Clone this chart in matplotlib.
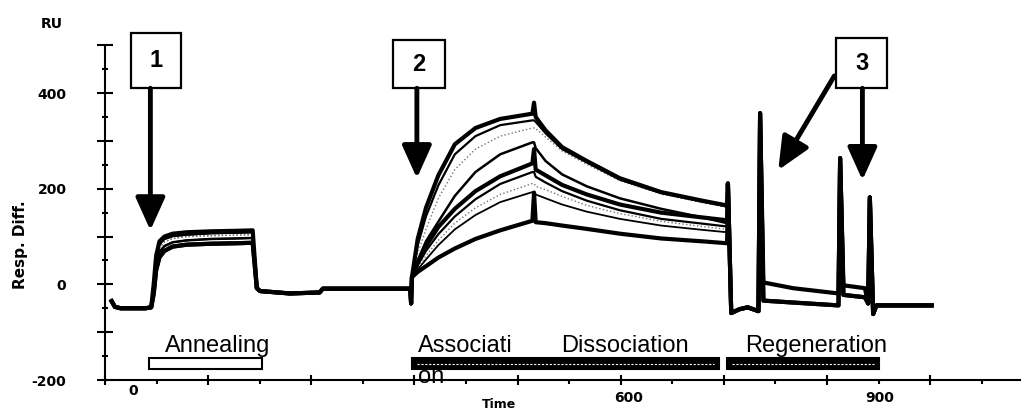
import matplotlib.pyplot as plt
from matplotlib.patches import Rectangle, FancyArrowPatch

plt.rcParams['font.family'] = ['Liberation Sans', 'DejaVu Sans']

# ---- sensorgram data: time (s) and response (RU) ----
base1_t = [-26, -22, -15, 0, 15, 22]
base1_v = [-35, -47, -50, -50, -50, -48]

anneal_t = [25, 28, 32, 38, 48, 65, 95, 125, 145, 150]
anneal_v = [
    [0, 60, 90, 100, 106, 109, 111, 112, 113, -8],
    [-5, 55, 84, 95, 101, 104, 107, 108, 109, -8],
    [-10, 48, 77, 89, 96, 100, 102, 103, 104, -8],
    [-15, 40, 68, 80, 88, 92, 95, 96, 97, -8],
    [-20, 30, 57, 70, 79, 83, 85, 86, 87, -8],
]

base2_t = [154, 190, 226, 230, 336, 337]
base2_v = [-14, -19, -17, -9, -9, -40]

assoc_t = [338, 345, 355, 370, 390, 415, 445, 484]
assoc_v = [
    [15, 95, 160, 228, 293, 327, 346, 357],
    [15, 82, 142, 207, 272, 310, 333, 343],
    [15, 65, 115, 180, 240, 283, 310, 327],
    [15, 50, 90, 131, 185, 235, 272, 297],
    [15, 45, 80, 120, 158, 195, 226, 253],
    [15, 40, 70, 105, 142, 178, 210, 235],
    [15, 35, 60, 92, 128, 160, 188, 211],
    [15, 31, 52, 82, 115, 145, 172, 193],
    [15, 26, 38, 56, 75, 95, 113, 133],
]

stop_t = 486
stop_v = [380, 343, 327, 297, 283, 235, 211, 193, 192]

dissoc_t = [488, 500, 520, 550, 590, 640, 690, 720]
dissoc_v = [
    [350, 322, 287, 258, 222, 193, 175, 165],
    [340, 316, 283, 255, 219, 191, 173, 163],
    [326, 308, 279, 251, 217, 189, 171, 161],
    [285, 258, 230, 205, 180, 158, 140, 128],
    [240, 228, 208, 188, 167, 150, 140, 134],
    [225, 213, 195, 175, 155, 137, 127, 121],
    [205, 198, 184, 165, 148, 132, 121, 115],
    [188, 180, 167, 152, 137, 123, 114, 109],
    [130, 128, 123, 116, 106, 96, 90, 86],
]

regen_t = [721, 725, 735, 745, 758, 760, 764, 800, 855, 857, 861, 887, 891, 893, 897, 901, 968]
regen_hi = [211, -60, -52, -48, -56, 358, 4, -8, -19, 264, -2, -8, -40, 182, -62, -44, -44]
regen_lo = [211, -60, -52, -48, -56, 358, -34, -38, -44, 264, -22, -27, -40, 182, -62, -44, -44]

# which annealing / regeneration trace belongs to each cycle, and its pen
anneal_of = [0, 1, 2, 3, 4, 1, 2, 3, 4]
regen_of = [0, 0, 0, 0, 1, 1, 1, 1, 1]
widths = [3.0, 1.6, 1.0, 1.8, 3.0, 1.6, 1.0, 1.3, 3.0]
colors = ['k', 'k', '0.45', 'k', 'k', 'k', '0.45', 'k', 'k']
styles = ['-', '-', ':', '-', '-', '-', ':', '-', '-']

# phase bars
phase_start = [19, 338, 720]
phase_end = [156, 710, 904]
phase_fill = ['white', 'black', 'black']

# numbered callouts
box_left = [-2.4, 315, 852]
box_width = [61, 63, 62]
box_bottom = 410
box_top = [526, 511, 515]
box_label = ['1', '2', '3']
arrow_from = [(21, 410), (344, 410), (850, 436), (884, 410)]
arrow_to = [(21, 113), (344, 222), (782, 239), (884, 218)]

fig = plt.figure(figsize=(10.27, 4.12), dpi=100)
ax = fig.add_axes([105 / 1027, 32 / 412, 915 / 1027, 363.4 / 412])
ax.set_xlim(-34, 1075)
ax.set_ylim(-200, 560)

order = sorted(range(9), key=lambda i: widths[i])
for i in order:
    t = base1_t + anneal_t + base2_t + assoc_t + [stop_t] + dissoc_t + regen_t
    v = (base1_v + anneal_v[anneal_of[i]] + base2_v + assoc_v[i] + [stop_v[i]]
         + dissoc_v[i] + (regen_hi if regen_of[i] == 0 else regen_lo))
    ax.plot(t, v, color=colors[i], lw=widths[i], ls=styles[i],
            solid_joinstyle='round', zorder=2 + widths[i])

# phase bars under the trace
for t0, t1, fc in zip(phase_start, phase_end, phase_fill):
    ax.add_patch(Rectangle((t0, -178), t1 - t0, 25, facecolor=fc,
                           edgecolor='k', lw=1.5, zorder=6))
    if fc == 'black':
        ax.plot([t0 + 6, t1 - 6], [-165.5, -165.5], color='white', lw=0.8,
                ls=(0, (2, 1.5)), zorder=7)

ax.text(39, -142, 'Annealing', fontsize=17, va='baseline')
ax.text(345, -142, 'Associati', fontsize=17, va='baseline')
ax.text(345, -207, 'on', fontsize=17, va='baseline', clip_on=False)
ax.text(519, -142, 'Dissociation', fontsize=17, va='baseline')
ax.text(742, -142, 'Regeneration', fontsize=17, va='baseline')

# numbered boxes and arrows
for x0, w, top, lab in zip(box_left, box_width, box_top, box_label):
    ax.add_patch(Rectangle((x0, box_bottom), w, top - box_bottom, facecolor='white',
                           edgecolor='k', lw=1.6, clip_on=False, zorder=8))
    ax.text(x0 + w / 2, (box_bottom + top) / 2, lab, fontsize=17, fontweight='bold',
            ha='center', va='center', zorder=9)

for p0, p1 in zip(arrow_from, arrow_to):
    ax.add_patch(FancyArrowPatch(p0, p1, arrowstyle='-|>,head_length=1.0,head_width=0.45',
                                 mutation_scale=20, lw=3.5, color='k', shrinkA=0,
                                 shrinkB=0, clip_on=False, zorder=8))

# axes styling
for s in ['top', 'right']:
    ax.spines[s].set_visible(False)
ax.spines['left'].set_bounds(-200, 500)
ax.spines['left'].set_linewidth(1.5)
ax.spines['bottom'].set_linewidth(1.5)

yticks = list(range(-200, 501, 100))
ax.set_yticks(yticks)
ax.set_yticklabels([str(y) if y in (-200, 0, 200, 400) else '' for y in yticks])
ax.set_yticks(range(-150, 500, 100), minor=True)
ax.tick_params(axis='y', which='major', direction='inout', length=11.5, width=1.5,
               pad=22)
ax.tick_params(axis='y', which='minor', direction='inout', length=5, width=1.5)
for lab in ax.get_yticklabels():
    lab.set_fontfamily('DejaVu Sans')
    lab.set_fontweight('bold')
    lab.set_fontsize(10)

ax.set_xticks([-34 + 125 * k for k in range(9)])
ax.set_xticks([28.5 + 125 * k for k in range(9)], minor=True)
ax.set_xticklabels([])
ax.tick_params(axis='x', which='major', direction='inout', length=7, width=1.5)
ax.tick_params(axis='x', which='minor', direction='out', length=3, width=1.5)

bold = dict(family='DejaVu Sans', fontweight='bold')
xlabel_t = [0, 600, 905]
xlabel_v = [-224, -237, -237]
for t, v, s in zip(xlabel_t, xlabel_v, ['0', '600', '900']):
    ax.text(t, v, s, fontsize=10, ha='center', va='center', clip_on=False, **bold)

fig.text(499 / 1027, 1 - 405 / 412, 'Time', fontsize=9, ha='center', va='center', **bold)
fig.text(21 / 1027, 1 - 245 / 412, 'Resp. Diff.', fontsize=11, rotation=90,
         ha='center', va='center', **bold)
fig.text(52 / 1027, 1 - 24 / 412, 'RU', fontsize=10, ha='center', va='center', **bold)

fig.savefig('out.png', dpi=100)
